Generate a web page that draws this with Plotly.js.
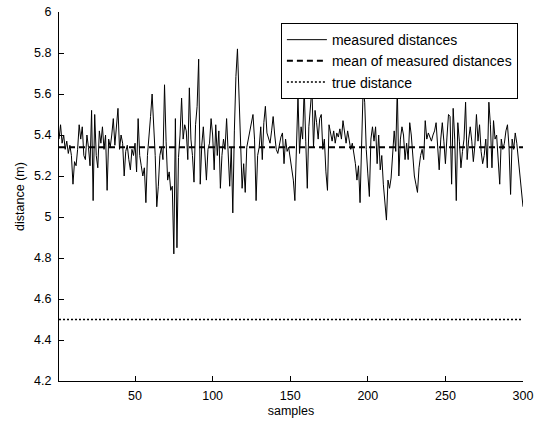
<!DOCTYPE html>
<html>
<head>
<meta charset="utf-8">
<script src="https://cdn.plot.ly/plotly-3.0.1.min.js"></script>
<style>html,body{margin:0;padding:0;background:#fff;}#chart{width:538px;height:424px;}</style>
</head>
<body>
<div id="chart"></div>
<script>
// measured distances (m), samples 1..300
const measured = [
  5.38,5.45,5.36,5.40,5.33,5.37,5.31,5.35,5.30,5.16,
  5.27,5.25,5.33,5.45,5.38,5.44,5.30,5.28,5.40,5.34,
  5.25,5.52,5.08,5.50,5.30,5.24,5.42,5.36,5.44,5.33,
  5.40,5.13,5.38,5.34,5.40,5.48,5.35,5.44,5.53,5.33,
  5.40,5.36,5.20,5.32,5.35,5.28,5.23,5.33,5.30,5.36,
  5.22,5.48,5.30,5.25,5.20,5.24,5.07,5.30,5.42,5.49,
  5.60,5.44,5.30,5.05,5.15,5.30,5.34,5.28,5.645,5.37,
  5.18,5.22,5.13,5.15,4.82,5.48,4.85,5.29,5.40,5.58,
  5.38,5.45,5.42,5.28,5.63,5.38,5.30,5.17,5.45,5.54,
  5.77,5.16,5.35,5.44,5.30,5.18,5.33,5.36,5.48,5.40,
  5.23,5.45,5.30,5.42,5.14,5.30,5.38,5.33,5.48,5.33,
  5.15,5.34,5.02,5.42,5.685,5.82,5.57,5.38,5.14,5.26,
  5.12,5.34,5.38,5.42,5.46,5.50,5.38,5.08,5.30,5.34,
  5.44,5.28,5.46,5.54,5.41,5.38,5.36,5.42,5.49,5.40,
  5.33,5.31,5.36,5.39,5.41,5.26,5.38,5.32,5.34,5.28,
  5.24,5.18,5.08,5.30,5.59,5.31,5.44,5.38,5.63,5.37,
  5.14,5.44,5.54,5.63,5.34,5.52,5.46,5.38,5.48,5.50,
  5.33,5.38,5.22,5.13,5.45,5.40,5.37,5.42,5.36,5.41,
  5.39,5.43,5.38,5.47,5.40,5.36,5.42,5.38,5.33,5.36,
  5.31,5.26,5.18,5.25,5.07,5.38,5.63,5.56,5.33,5.21,
  5.10,5.38,5.44,5.37,5.44,5.26,5.40,5.23,5.30,5.16,
  5.08,4.985,5.18,5.14,5.19,5.33,5.42,5.32,5.63,5.20,
  5.38,5.44,5.40,5.28,5.36,5.28,5.46,5.40,5.30,5.20,
  5.16,5.12,5.24,5.30,5.33,5.28,5.47,5.38,5.41,5.39,
  5.37,5.40,5.42,5.46,5.36,5.23,5.38,5.46,5.37,5.26,
  5.39,5.50,5.49,5.16,5.53,5.38,5.08,5.46,5.37,5.24,
  5.32,5.38,5.56,5.28,5.38,5.44,5.37,5.27,5.35,5.50,
  5.37,5.45,5.32,5.26,5.30,5.38,5.24,5.56,5.45,5.24,
  5.47,5.38,5.40,5.28,5.16,5.38,5.33,5.36,5.42,5.45,
  5.34,5.11,5.38,5.33,5.41,5.36,5.28,5.18,5.10,5.05
];
const samples = measured.map((_, i) => i + 1);
const meanDistance = 5.34;
const trueDistance = 4.5;
const xTicks = [50, 100, 150, 200, 250, 300];
const yTicks = [4.2, 4.4, 4.6, 4.8, 5, 5.2, 5.4, 5.6, 5.8, 6];
const seriesNames = ['measured distances', 'mean of measured distances', 'true distance'];

const font = {family: '"Liberation Sans", Arial, sans-serif', size: 12, color: '#000'};
const xEnds = [samples[0], samples[samples.length - 1]];

const traces = [
  {x: samples, y: measured, type: 'scatter', mode: 'lines', name: seriesNames[0],
   line: {color: '#000', width: 1}},
  {x: xEnds, y: [meanDistance, meanDistance], type: 'scatter', mode: 'lines', name: seriesNames[1],
   line: {color: '#000', width: 2, dash: '6px,4px'}},
  {x: xEnds, y: [trueDistance, trueDistance], type: 'scatter', mode: 'lines', name: seriesNames[2],
   line: {color: '#000', width: 1.5, dash: '2px,2px'}}
];

const layout = {
  width: 538, height: 424,
  margin: {l: 59, r: 15, t: 12, b: 43, pad: 0},
  paper_bgcolor: '#fff', plot_bgcolor: '#fff',
  font: font,
  showlegend: true,
  legend: {x: 0.989, y: 0.97, xanchor: 'right', yanchor: 'top', itemwidth: 40,
           bgcolor: '#fff', bordercolor: '#000', borderwidth: 1,
           font: {family: font.family, size: 14, color: '#000'}, tracegroupgap: 0},
  xaxis: {range: [1, 300], tickvals: xTicks, ticks: 'inside', ticklen: 5, tickcolor: '#000',
          showline: true, linecolor: '#000', linewidth: 1, mirror: false,
          showgrid: false, zeroline: false, tickfont: {size: 12.5}, ticklabelstandoff: 3,
          title: {text: 'samples', font: {size: 12.5}, standoff: 4}},
  yaxis: {range: [4.2, 6], tickvals: yTicks, ticktext: yTicks.map(v => String(v)),
          ticks: 'inside', ticklen: 5, tickcolor: '#000',
          showline: true, linecolor: '#000', linewidth: 1, mirror: false,
          showgrid: false, zeroline: false, tickfont: {size: 12.5}, ticklabelstandoff: 4,
          title: {text: 'distance (m)', font: {size: 12.5}, standoff: 6}}
};

Plotly.newPlot('chart', traces, layout, {displayModeBar: false, staticPlot: true});
</script>
</body>
</html>
